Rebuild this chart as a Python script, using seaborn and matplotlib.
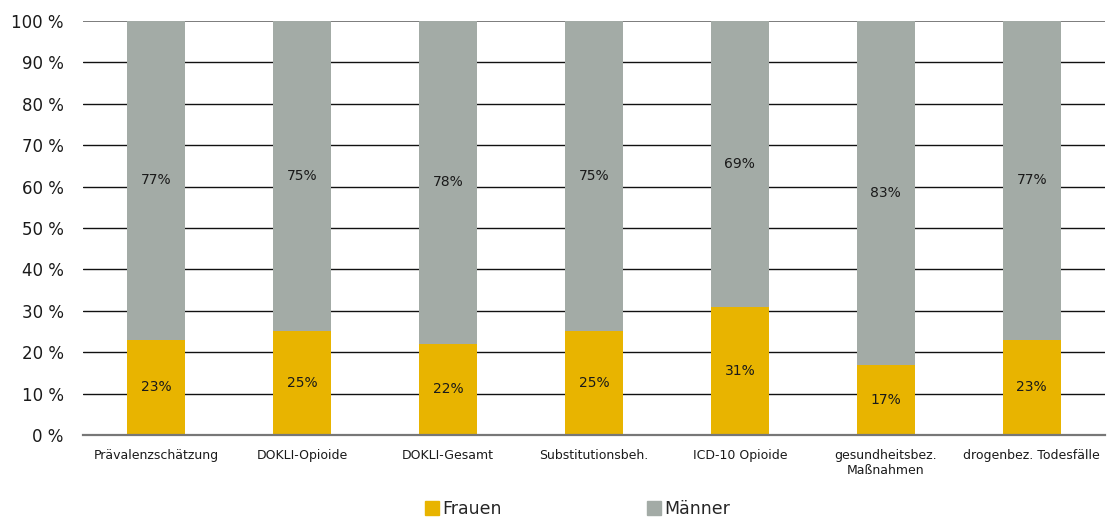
import matplotlib
matplotlib.use("Agg")
import matplotlib.pyplot as plt
import seaborn as sns
import pandas as pd
from matplotlib.lines import Line2D

categories = [
    "Prävalenzschätzung",
    "DOKLI-Opioide",
    "DOKLI-Gesamt",
    "Substitutionsbeh.",
    "ICD-10 Opioide",
    "gesundheitsbez.\nMaßnahmen",
    "drogenbez. Todesfälle",
]
frauen = [23, 25, 22, 25, 31, 17, 23]
maenner = [77, 75, 78, 75, 69, 83, 77]
y_ticks = [0, 10, 20, 30, 40, 50, 60, 70, 80, 90, 100]

YELLOW = "#E8B400"
GREY = "#A3ABA6"

sns.set_theme(style="white")
plt.rcParams["font.family"] = ["DejaVu Sans"]

df = pd.DataFrame({"Kategorie": categories, "Frauen": frauen, "Männer": maenner})
df["Gesamt"] = df["Frauen"] + df["Männer"]

fig = plt.figure(figsize=(11.07, 5.22), dpi=100)
ax = fig.add_axes([0.075, 0.1667, 0.923, 0.7931])

# stacked bars: full height in grey, women's share drawn over it
sns.barplot(data=df, x="Kategorie", y="Gesamt", color=GREY, width=0.4,
            saturation=1, linewidth=0, ax=ax, zorder=2)
sns.barplot(data=df, x="Kategorie", y="Frauen", color=YELLOW, width=0.4,
            saturation=1, linewidth=0, ax=ax, zorder=3)

grey_bars = ax.containers[0]
yellow_bars = ax.containers[1]

# shift the grey bars so they start on top of the yellow ones
for rect, f, m in zip(grey_bars, frauen, maenner):
    rect.set_y(f)
    rect.set_height(m)

ax.bar_label(grey_bars, labels=[f"{v}%" for v in maenner], label_type="center",
             fontsize=10, color="#1a1a1a")
ax.bar_label(yellow_bars, labels=[f"{v}%" for v in frauen], label_type="center",
             fontsize=10, color="#1a1a1a")

ax.set_xlim(-0.5, len(categories) - 0.5)
ax.set_ylim(0, 100)
ax.set_yticks(y_ticks)
ax.set_yticklabels([f"{t} %" for t in y_ticks], fontsize=12, color="#1a1a1a")
ax.set_xticks(range(len(categories)))
ax.set_xticklabels(categories, fontsize=9, color="#1a1a1a")
ax.tick_params(axis="y", length=0, pad=14)
ax.tick_params(axis="x", length=0, pad=10)
ax.set_xlabel("")
ax.set_ylabel("")

for t in y_ticks[1:-1]:
    ax.axhline(t, color="#111111", lw=1.0, zorder=1)
ax.axhline(100, color="#666666", lw=1.2, zorder=1)

for s in ["top", "right", "left"]:
    ax.spines[s].set_visible(False)
ax.spines["bottom"].set_color("#777777")
ax.spines["bottom"].set_linewidth(1.6)
ax.spines["bottom"].set_zorder(4)

handles = [
    Line2D([], [], marker="s", linestyle="none", markersize=10,
           markerfacecolor=YELLOW, markeredgecolor=YELLOW, label="Frauen"),
    Line2D([], [], marker="s", linestyle="none", markersize=10,
           markerfacecolor=GREY, markeredgecolor=GREY, label="Männer"),
]
fig.legend(handles=handles, loc="lower center", bbox_to_anchor=(0.521, -0.022),
           ncol=2, frameon=False, fontsize=12.5, handletextpad=0.1,
           columnspacing=8.3, handlelength=1.0)

fig.savefig("out.png", dpi=100)
